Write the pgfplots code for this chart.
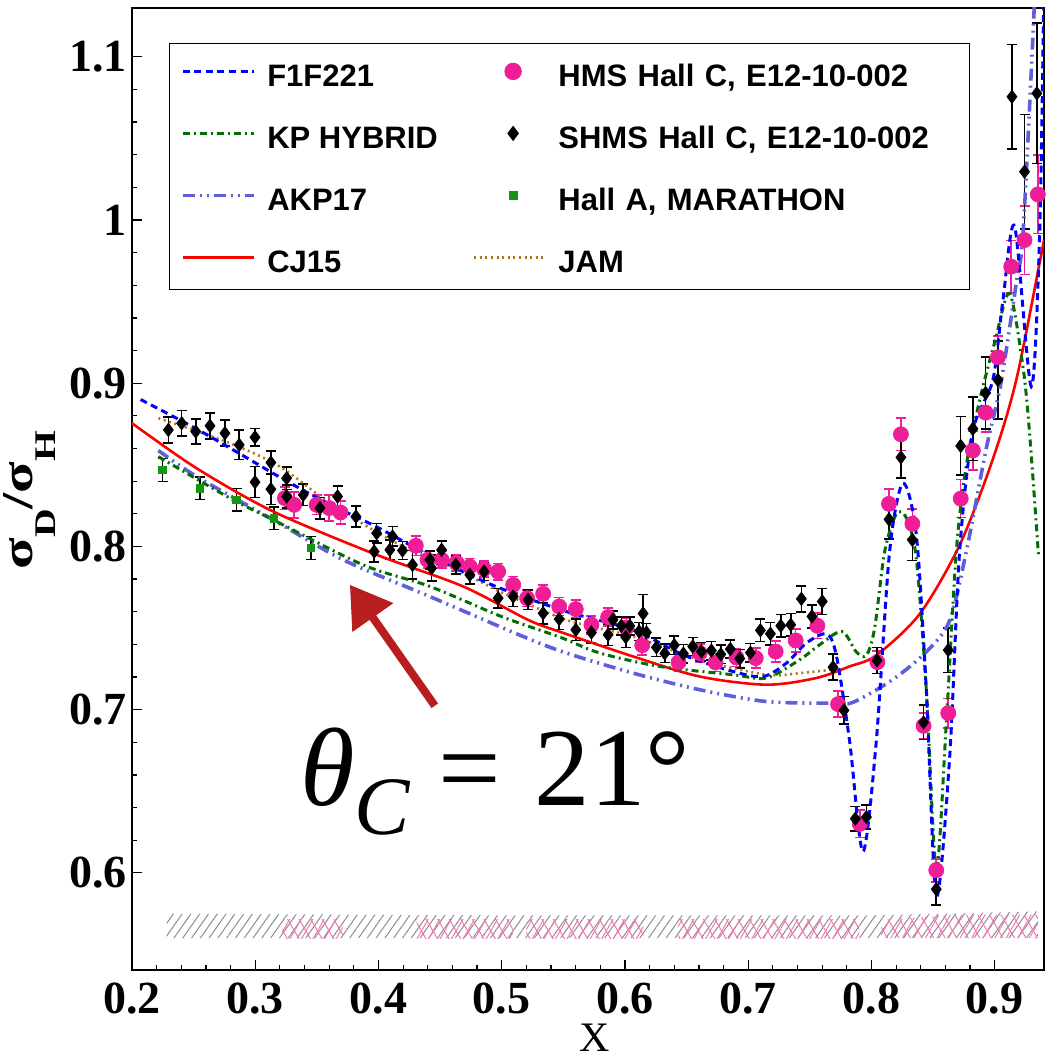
\documentclass[border=0pt]{standalone}
\usepackage{fontspec}
\setmainfont{Liberation Serif}
\newfontfamily\legfont{Liberation Sans}
\usepackage{pgfplots}
\pgfplotsset{compat=1.18}
\usetikzlibrary{patterns.meta, arrows.meta}

\definecolor{hmspink}{RGB}{240,30,150}
\definecolor{fblue}{RGB}{0,0,255}
\definecolor{kpgreen}{RGB}{0,110,0}
\definecolor{akp}{RGB}{95,95,220}
\definecolor{cjred}{RGB}{255,0,0}
\definecolor{jam}{RGB}{170,120,30}
\definecolor{hallagreen}{RGB}{20,150,20}
\definecolor{arrowred}{RGB}{185,30,30}
\definecolor{hatchgray}{RGB}{140,140,140}
\definecolor{hatchpink}{RGB}{240,120,180}

\begin{document}
\begin{tikzpicture}
\begin{axis}[
  at={(0pt,0pt)}, anchor=south west,
  scale only axis, width=456pt, height=481.25pt,
  xmin=0.2, xmax=0.94, ymin=0.5405, ymax=1.1302,
  axis line style={line width=1pt},
  xtick={0.2,0.3,0.4,0.5,0.6,0.7,0.8,0.9},
  xticklabels={0.2,0.3,0.4,0.5,0.6,0.7,0.8,0.9},
  ytick={0.6,0.7,0.8,0.9,1,1.1},
  yticklabels={0.6,0.7,0.8,0.9,1,1.1},
  minor x tick num=4, minor y tick num=4,
  tick align=inside, xtick pos=left, ytick pos=left,
  major tick length=5pt, minor tick length=2.5pt,
  tick style={line width=0.6pt, black},
  xticklabel style={font=\fontsize{23}{23}\selectfont\bfseries, inner sep=0pt, anchor=north, yshift=-6.5pt},
  yticklabel style={font=\fontsize{23}{23}\selectfont\bfseries, inner sep=0pt, anchor=east, xshift=-2.5pt},
  xlabel={X},
  xlabel style={at={(axis description cs:0.5077,-0.085)}, anchor=base, inner sep=0pt, font=\fontsize{21}{21}\selectfont},
  ylabel={\scalebox{1.32}[1]{\bfseries σ\raisebox{-11.5pt}{\fontsize{15}{15}\selectfont D}/σ\raisebox{-11.5pt}{\fontsize{15}{15}\selectfont H}}},
  ylabel style={at={(axis description cs:-0.1096,0.4883)}, anchor=base, inner sep=0pt, font=\fontsize{22}{22}\selectfont},
  legend columns=2,
  legend cell align=left,
  legend image code/.code={\path[draw=none] (0pt,1.15pt) -- (35.5pt,1.15pt);
    \draw[mark repeat=2,mark phase=2,#1] plot coordinates {(0pt,1.15pt) (19.5pt,1.15pt) (35.5pt,1.15pt)};},
  legend style={at={(axis description cs:0.04057,0.96312)}, anchor=north west,
    draw=black, line width=0.7pt, fill=white, inner xsep=5.5pt, inner ysep=6.15pt,
    row sep=13.3pt, font=\legfont\bfseries\fontsize{15.5}{18}\selectfont,
    nodes={inner sep=0pt, text height=15pt, text depth=2.7pt},
    /tikz/every odd column/.append style={column sep=6pt},
    /tikz/every even column/.append style={column sep=17.5pt},
    /tikz/column 4/.append style={nodes={text width=200pt}}},
]

% systematic bands
\addplot[draw=none, forget plot, pattern={Lines[angle=55,distance=3.6pt,line width=0.5pt]}, pattern color=hatchgray]
  coordinates {(0.228,0.5601) (0.228,0.5750) (0.50,0.5740) (0.80,0.5740) (0.935,0.5764) (0.935,0.5601)} -- cycle;
\addplot[draw=none, forget plot, pattern={Lines[angle=60,distance=5pt,line width=0.5pt]}, pattern color=hatchpink]
  coordinates {(0.322,0.5601) (0.322,0.5713) (0.371,0.5713) (0.371,0.5601)} -- cycle;
\addplot[draw=none, forget plot, pattern={Lines[angle=120,distance=5pt,line width=0.5pt]}, pattern color=hatchpink]
  coordinates {(0.322,0.5601) (0.322,0.5713) (0.371,0.5713) (0.371,0.5601)} -- cycle;
\addplot[draw=none, forget plot, pattern={Lines[angle=60,distance=5pt,line width=0.5pt]}, pattern color=hatchpink]
  coordinates {(0.431,0.5601) (0.431,0.5713) (0.509,0.5713) (0.509,0.5601)} -- cycle;
\addplot[draw=none, forget plot, pattern={Lines[angle=120,distance=5pt,line width=0.5pt]}, pattern color=hatchpink]
  coordinates {(0.431,0.5601) (0.431,0.5713) (0.509,0.5713) (0.509,0.5601)} -- cycle;
\addplot[draw=none, forget plot, pattern={Lines[angle=60,distance=5pt,line width=0.5pt]}, pattern color=hatchpink]
  coordinates {(0.520,0.5601) (0.520,0.5713) (0.615,0.5713) (0.615,0.5601)} -- cycle;
\addplot[draw=none, forget plot, pattern={Lines[angle=120,distance=5pt,line width=0.5pt]}, pattern color=hatchpink]
  coordinates {(0.520,0.5601) (0.520,0.5713) (0.615,0.5713) (0.615,0.5601)} -- cycle;
\addplot[draw=none, forget plot, pattern={Lines[angle=60,distance=5pt,line width=0.5pt]}, pattern color=hatchpink]
  coordinates {(0.643,0.5601) (0.643,0.5713) (0.790,0.5713) (0.790,0.5601)} -- cycle;
\addplot[draw=none, forget plot, pattern={Lines[angle=120,distance=5pt,line width=0.5pt]}, pattern color=hatchpink]
  coordinates {(0.643,0.5601) (0.643,0.5713) (0.790,0.5713) (0.790,0.5601)} -- cycle;
\addplot[draw=none, forget plot, pattern={Lines[angle=60,distance=5pt,line width=0.5pt]}, pattern color=hatchpink]
  coordinates {(0.808,0.5601) (0.808,0.5713) (0.870,0.5744) (0.935,0.5744) (0.935,0.5601)} -- cycle;
\addplot[draw=none, forget plot, pattern={Lines[angle=120,distance=5pt,line width=0.5pt]}, pattern color=hatchpink]
  coordinates {(0.808,0.5601) (0.808,0.5713) (0.870,0.5744) (0.935,0.5744) (0.935,0.5601)} -- cycle;

% HMS Hall C
\addplot[forget plot, only marks, mark=*, mark size=3.75pt, color=hmspink,
  error bars/.cd, y dir=both, y explicit,
  error bar style={line width=0.8pt, hmspink},
  error mark options={line width=0.8pt, mark size=2.5pt, hmspink, rotate=90}]
  table[x=x, y=y, y error=e] {
x y e
0.3241 0.8296 0.007
0.3316 0.8255 0.008
0.3498 0.8255 0.006
0.3600 0.8235 0.008
0.3692 0.8208 0.007
0.4303 0.8004 0.006
0.4398 0.7918 0.005
0.4512 0.7918 0.005
0.4633 0.7901 0.005
0.4741 0.7877 0.005
0.4857 0.7861 0.005
0.4971 0.7846 0.005
0.5093 0.7765 0.005
0.5206 0.7683 0.005
0.5336 0.7710 0.0055
0.5466 0.7632 0.0055
0.5601 0.7616 0.0055
0.5728 0.7520 0.0055
0.5863 0.7567 0.0055
0.6012 0.7503 0.0055
0.6140 0.7395 0.006
0.6435 0.7290 0.0055
0.6607 0.7347 0.0055
0.6735 0.7290 0.0055
0.6904 0.7320 0.0055
0.7061 0.7316 0.006
0.7223 0.7356 0.0064
0.7385 0.7424 0.007
0.7561 0.7514 0.0077
0.7729 0.7034 0.008
0.7905 0.6300 0.0084
0.8048 0.7291 0.007
0.8142 0.8261 0.009
0.8239 0.8687 0.010
0.8332 0.8139 0.009
0.8423 0.6901 0.008
0.8526 0.6016 0.007
0.8623 0.6979 0.009
0.8724 0.8293 0.0116
0.8823 0.8588 0.012
0.8926 0.8820 0.012
0.9026 0.9159 0.013
0.9134 0.9714 0.016
0.9242 0.9877 0.021
0.9350 1.0157 0.024
};

% SHMS Hall C
\addplot[forget plot, only marks, mark=diamond*, mark size=3.3pt, color=black,
  error bars/.cd, y dir=both, y explicit,
  error bar style={line width=0.8pt, black},
  error mark options={line width=0.8pt, mark size=2.5pt, black, rotate=90}]
  table[x=x, y=y, y error=e] {
x y e
0.2295 0.8714 0.0079
0.2403 0.8755 0.0077
0.2517 0.8704 0.0077
0.2633 0.8739 0.0080
0.2754 0.8694 0.0080
0.2870 0.8622 0.0090
0.2998 0.8669 0.0053
0.2998 0.8394 0.0095
0.3127 0.8514 0.0070
0.3127 0.8351 0.0095
0.3255 0.8418 0.0070
0.3255 0.8306 0.0070
0.3389 0.8316 0.0065
0.3525 0.8235 0.0065
0.3668 0.8306 0.0065
0.3817 0.8183 0.0065
0.3985 0.8081 0.0060
0.3965 0.7969 0.0065
0.4114 0.8061 0.0060
0.4092 0.7979 0.0060
0.4195 0.7975 0.0055
0.4276 0.7887 0.0087
0.4417 0.7918 0.0055
0.4431 0.7867 0.0080
0.4512 0.7979 0.0055
0.4628 0.7887 0.0055
0.4741 0.7826 0.0055
0.4857 0.7846 0.0055
0.4971 0.7683 0.0060
0.5093 0.7693 0.0060
0.5214 0.7673 0.0060
0.5336 0.7591 0.0065
0.5466 0.7555 0.0065
0.5601 0.7489 0.0065
0.5728 0.7473 0.0065
0.5863 0.7459 0.0065
0.5903 0.7551 0.0055
0.5971 0.7514 0.0055
0.6006 0.7445 0.0065
0.6039 0.7514 0.0055
0.6115 0.7479 0.0055
0.6147 0.7589 0.0117
0.6174 0.7473 0.0055
0.6255 0.7382 0.0056
0.6323 0.7345 0.0056
0.6400 0.7395 0.0056
0.6474 0.7343 0.0056
0.6550 0.7387 0.0056
0.6620 0.7356 0.0056
0.6701 0.7362 0.0056
0.6778 0.7339 0.0056
0.6855 0.7371 0.0056
0.6931 0.7313 0.0056
0.7018 0.7349 0.0056
0.7099 0.7486 0.0068
0.7180 0.7465 0.0068
0.7264 0.7514 0.0068
0.7345 0.7520 0.0068
0.7431 0.7679 0.0079
0.7517 0.7571 0.0070
0.7601 0.7663 0.0079
0.7688 0.7260 0.0080
0.7777 0.6996 0.0084
0.7869 0.6332 0.0074
0.7959 0.6342 0.0074
0.8045 0.7302 0.0080
0.8142 0.8166 0.0120
0.8239 0.8546 0.0127
0.8332 0.8040 0.0127
0.8423 0.6922 0.0105
0.8526 0.5900 0.0095
0.8623 0.7365 0.0137
0.8724 0.8616 0.0180
0.8823 0.8721 0.0195
0.8926 0.8940 0.0220
0.9026 0.9020 0.0240
0.9140 1.0755 0.0320
0.9242 1.0296 0.0350
0.9342 1.0776 0.0430
};

% Hall A MARATHON
\addplot[forget plot, only marks, mark=square*, mark size=1.9pt, color=hallagreen,
  error bars/.cd, y dir=both, y explicit,
  error bar style={line width=0.8pt, black},
  error mark options={line width=0.8pt, mark size=2.5pt, black, rotate=90}]
  table[x=x, y=y, y error=e] {
x y e
0.2249 0.8469 0.007
0.2551 0.8357 0.007
0.2849 0.8286 0.007
0.3152 0.8173 0.007
0.3452 0.7990 0.007
};

% JAM
\addplot[forget plot, smooth, jam, line width=1.3pt, dash pattern=on 1pt off 1.8pt] coordinates {
(0.2214,0.8786) (0.2795,0.8633) (0.3200,0.8489) (0.3606,0.8265) (0.4147,0.8020)
(0.4687,0.7837) (0.4985,0.7724) (0.5525,0.7550) (0.6066,0.7448) (0.6607,0.7306)
(0.7147,0.7214) (0.7418,0.7224) (0.7715,0.7248)};

% CJ15
\addplot[forget plot, smooth, cjred, line width=1.3pt] coordinates {
(0.200,0.8755) (0.2524,0.8479) (0.3146,0.8214) (0.3985,0.7949) (0.4687,0.7755)
(0.5214,0.7550) (0.5500,0.7470) (0.6066,0.7326) (0.6607,0.7203) (0.7147,0.7153)
(0.7553,0.7194) (0.7823,0.7265) (0.8039,0.7333) (0.8391,0.7586) (0.8715,0.8008)
(0.8985,0.8535) (0.9175,0.9020) (0.9364,0.9735) (0.9400,0.9880)};

% AKP17
\addplot[forget plot, smooth, akp, line width=1.8pt, dash pattern=on 6pt off 2.5pt on 1pt off 2.5pt on 1pt off 2.5pt] coordinates {
(0.2214,0.8588) (0.2525,0.8428) (0.3146,0.8163) (0.3714,0.7918) (0.4417,0.7693)
(0.5174,0.7448) (0.5525,0.7347) (0.6066,0.7224) (0.6607,0.7122) (0.7147,0.7050)
(0.7688,0.7040) (0.7850,0.7045) (0.8174,0.7185) (0.8445,0.7354) (0.8634,0.7545)
(0.8769,0.7967) (0.8931,0.8598) (0.9050,0.9000) (0.9175,0.9614) (0.9230,0.9920)
(0.9311,1.1140) (0.9330,1.1500)};

% KP HYBRID
\addplot[forget plot, smooth, kpgreen, line width=1.5pt, dash pattern=on 3.5pt off 2pt on 1pt off 2pt] coordinates {
(0.2214,0.8550) (0.2795,0.8296) (0.3146,0.8163) (0.3876,0.7887) (0.4417,0.7755)
(0.5000,0.7570) (0.5470,0.7445) (0.5796,0.7347) (0.6282,0.7265) (0.6877,0.7214)
(0.7147,0.7194) (0.7418,0.7306) (0.7580,0.7398) (0.7761,0.7479) (0.7877,0.7354)
(0.7959,0.7333) (0.8026,0.7500) (0.8107,0.7967) (0.8201,0.8198) (0.8282,0.8177)
(0.8364,0.7924) (0.8445,0.7122) (0.8526,0.6026) (0.8607,0.6914) (0.8688,0.7967)
(0.8769,0.8494) (0.8877,0.8893) (0.9000,0.9250) (0.9120,0.9550) (0.9229,0.9102)
(0.9283,0.8694) (0.9355,0.7950)};

% F1F221
\addplot[forget plot, smooth, fblue, line width=1.5pt, dash pattern=on 3.5pt off 2.3pt] coordinates {
(0.207,0.890) (0.250,0.873) (0.287,0.857) (0.3255,0.840) (0.360,0.826)
(0.3985,0.812) (0.435,0.797) (0.4687,0.7846) (0.4985,0.7745) (0.5525,0.7601)
(0.6066,0.7489) (0.6471,0.7336) (0.6877,0.7234) (0.712,0.7203) (0.731,0.7285)
(0.7472,0.7408) (0.7634,0.7464) (0.7715,0.7333) (0.7823,0.6806) (0.7931,0.6131)
(0.8039,0.6806) (0.8147,0.7966) (0.8255,0.8387) (0.8364,0.8071) (0.8445,0.7122)
(0.8526,0.5857) (0.8634,0.6701) (0.8715,0.7966) (0.8823,0.8704) (0.8985,0.9020)
(0.9067,0.9510) (0.9162,0.9960) (0.9297,0.8980) (0.9365,0.9920) (0.9400,1.1500)};

% legend
\addlegendimage{fblue, line width=1.5pt, dash pattern=on 3.5pt off 2.3pt}
\addlegendentry{F1F221}
\addlegendimage{legend image code/.code={\path[draw=none] (0pt,1.15pt) -- (35.5pt,1.15pt);
  \path[draw=none, mark=*, mark size=4pt, mark options={draw=hmspink, fill=hmspink, solid}] plot coordinates {(19.5pt,1.15pt)};}}
\addlegendentry{HMS Hall C, E12-10-002}
\addlegendimage{kpgreen, line width=1.5pt, dash pattern=on 3.5pt off 2pt on 1pt off 2pt}
\addlegendentry{KP HYBRID}
\addlegendimage{legend image code/.code={\path[draw=none] (0pt,1.15pt) -- (35.5pt,1.15pt);
  \path[draw=none, mark=diamond*, mark size=3.3pt, mark options={draw=black, fill=black, solid}] plot coordinates {(19.5pt,1.15pt)};}}
\addlegendentry{SHMS Hall C, E12-10-002}
\addlegendimage{akp, line width=1.8pt, dash pattern=on 6pt off 2.5pt on 1pt off 2.5pt on 1pt off 2.5pt}
\addlegendentry{AKP17}
\addlegendimage{legend image code/.code={\path[draw=none] (0pt,1.15pt) -- (35.5pt,1.15pt);
  \path[draw=none, mark=square*, mark size=1.9pt, mark options={draw=hallagreen, fill=hallagreen, solid}] plot coordinates {(19.5pt,1.15pt)};}}
\addlegendentry{Hall A, MARATHON}
\addlegendimage{cjred, line width=1.3pt}
\addlegendentry{CJ15}
\addlegendimage{jam, line width=1.3pt, dash pattern=on 1pt off 1.8pt}
\addlegendentry{JAM}

% annotation
\draw[arrowred, line width=4pt, -{Triangle[length=20pt,width=24pt]}] (axis cs:0.4457,0.7024) -- (axis cs:0.3768,0.7765);
\node[anchor=base west, inner sep=0pt] at (axis cs:0.3363,0.6412)
  {\fontsize{55.5}{60}\selectfont\itshape θ\raisebox{-14.5pt}{\fontsize{41.5}{42}\selectfont C}\hspace{14pt}\upshape =\hspace{17pt}21°};
\end{axis}
\pgfresetboundingbox
\path[use as bounding box] (-66pt,-45.5pt) rectangle (456.5pt,485pt);
\end{tikzpicture}
\end{document}
